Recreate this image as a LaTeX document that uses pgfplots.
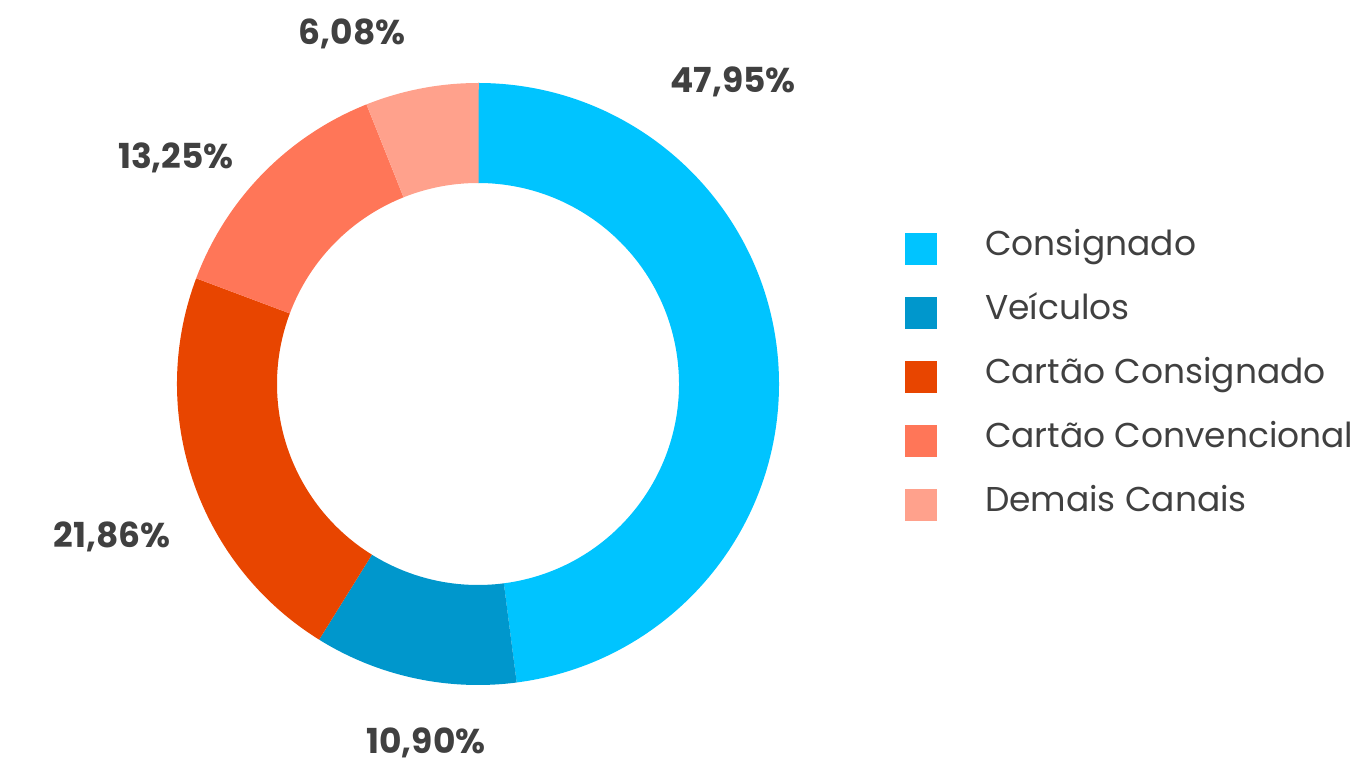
\documentclass[border=0pt]{standalone}
\usepackage{pgfplots}
\usepackage{pgfplotstable}
\pgfplotsset{compat=1.18}
\usepackage{fontspec}
\setmainfont{Poppins}

\definecolor{c0}{HTML}{00C4FF}
\definecolor{c1}{HTML}{0097CC}
\definecolor{c2}{HTML}{E84500}
\definecolor{c3}{HTML}{FF7658}
\definecolor{c4}{HTML}{FFA18C}
\definecolor{txt}{HTML}{404040}

% share of each channel (%), clockwise from 12 o'clock
\pgfplotstableread[col sep=comma]{
label,value
Consignado,47.95
Veículos,10.90
Cartão Consignado,21.86
Cartão Convencional,13.25
Demais Canais,6.08
}\shares

\begin{document}
\begin{tikzpicture}
\begin{axis}[
    xmin=0, xmax=1357, ymin=0, ymax=761,
    width=13.57cm, height=7.61cm, scale only axis,
    hide axis, clip=false,
    legend style={at={(axis cs:905,535)}, anchor=north west,
        draw=none, fill=none, inner sep=0pt, outer sep=0pt,
        font=\fontsize{9.8}{12}\selectfont, text=txt,
        nodes={inner sep=0pt, text height=0.3cm, text depth=0.08cm},
        row sep=0.25cm, column sep=0.48cm},
    legend cell align=left,
]
\path (axis cs:0,0) rectangle (axis cs:1357,761);

\gdef\cum{0}
\pgfplotsinvokeforeach{0,...,4}{
    \pgfplotstablegetelem{#1}{value}\of\shares
    \pgfmathsetmacro\aone{90-3.6*\cum}
    \pgfmathsetmacro\atwo{90-3.6*(\cum+\pgfplotsretval)}
    \pgfmathsetmacro\newcum{\cum+\pgfplotsretval}
    \xdef\cum{\newcum}
    \edef\doslice{\noexpand\fill[c#1]
        (axis cs:{478+301*cos(\aone)},{377+301*sin(\aone)})
        arc[start angle=\aone, end angle=\atwo, radius=3.01cm]
        -- (axis cs:{478+201*cos(\atwo)},{377+201*sin(\atwo)})
        arc[start angle=\atwo, end angle=\aone, radius=2.01cm] -- cycle;}
    \doslice
}

\pgfplotsset{legend image code/.code={\fill[#1] (0cm,-0.2cm) rectangle (0.32cm,0.12cm);}}
\addlegendimage{fill=c0, draw=none}
\addlegendentry{Consignado}
\addlegendimage{fill=c1, draw=none}
\addlegendentry{Veículos}
\addlegendimage{fill=c2, draw=none}
\addlegendentry{Cartão Consignado}
\addlegendimage{fill=c3, draw=none}
\addlegendentry{Cartão Convencional}
\addlegendimage{fill=c4, draw=none}
\addlegendentry{Demais Canais}

% value labels
\begin{scope}[every node/.style={font=\bfseries\fontsize{9.8}{12}\selectfont, text=txt, anchor=base}]
\node at (axis cs:733,668) {47,95\%};
\node at (axis cs:426,8) {10,90\%};
\node at (axis cs:112,214) {21,86\%};
\node at (axis cs:176,592) {13,25\%};
\node at (axis cs:352,716) {6,08\%};
\end{scope}
\end{axis}
\end{tikzpicture}
\end{document}
